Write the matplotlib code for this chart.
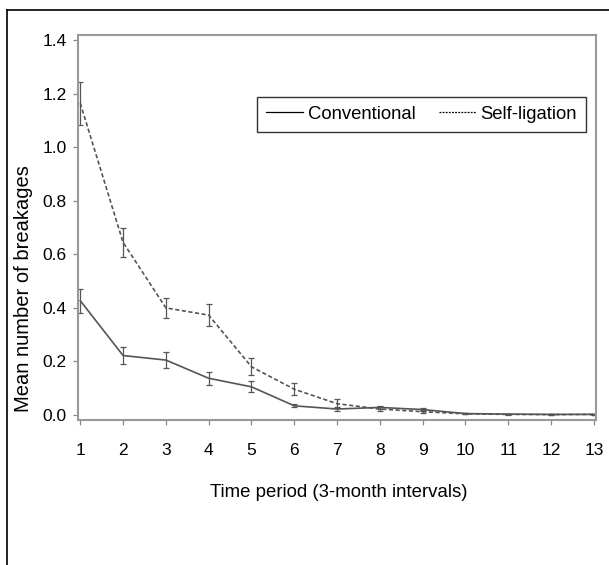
import matplotlib
matplotlib.use("Agg")
import matplotlib.pyplot as plt
from matplotlib.lines import Line2D

plt.rcParams['font.family'] = ['Liberation Sans', 'DejaVu Sans']

periods = [1, 2, 3, 4, 5, 6, 7, 8, 9, 10, 11, 12, 13]
conventional = [0.427, 0.222, 0.205, 0.137, 0.105, 0.034, 0.022, 0.028, 0.02, 0.005, 0.003, 0.002, 0.002]
conventional_err = [0.045, 0.032, 0.03, 0.025, 0.02, 0.006, 0.006, 0.007, 0.005, 0.002, 0.001, 0.001, 0.001]
self_ligation = [1.165, 0.645, 0.40, 0.373, 0.18, 0.096, 0.042, 0.022, 0.012, 0.004, 0.002, 0.001, 0.002]
self_ligation_err = [0.08, 0.053, 0.038, 0.04, 0.032, 0.022, 0.016, 0.008, 0.005, 0.002, 0.001, 0.001, 0.001]
series_names = ["Conventional", "Self-ligation"]
y_ticks = [0.0, 0.2, 0.4, 0.6, 0.8, 1.0, 1.2, 1.4]

W, H = 609, 565
L, R, T, B = 77.7, 596, 35, 420
fig = plt.figure(figsize=(W/100, H/100), dpi=100)
ax = fig.add_axes([L/W, 1-B/H, (R-L)/W, (B-T)/H])

line_col = '#555555'
ax.errorbar(periods, conventional, yerr=conventional_err, color=line_col, lw=1.2,
            ls='-', capsize=2, elinewidth=0.9, capthick=0.9)
ax.errorbar(periods, self_ligation, yerr=self_ligation_err, color=line_col, lw=1.2,
            ls=(0, (2.5, 1.5)), capsize=2, elinewidth=0.9, capthick=0.9)

ax.set_xlim(0.94, 13.05)
ax.set_ylim(-0.019, 1.42)
ax.set_xticks(periods)
ax.set_yticks(y_ticks)
ax.set_yticklabels([f"{v:.1f}" for v in y_ticks])
for s in ax.spines.values():
    s.set_color('#999999')
    s.set_linewidth(1.5)
ax.tick_params(colors='#888888', labelcolor='black', labelsize=12.5, length=3.5, width=0.9)
ax.tick_params(axis='x', pad=13)
ax.tick_params(axis='y', pad=4.3)

ax.set_xlabel("Time period (3-month intervals)", fontsize=13.4)
ax.xaxis.set_label_coords((339 - L)/(R - L), -(484 - B)/(B - T))
ax.set_ylabel("Mean number of breakages", fontsize=14.5)
ax.yaxis.set_label_coords(-(L - 33)/(R - L), 1 - (288.5 - T)/(B - T))

handles = [Line2D([], [], color='black', lw=0.9, ls='-'),
           Line2D([], [], color='black', lw=0.9, ls=(0, (1.5, 1)))]
leg = ax.legend(handles, series_names, ncol=2, loc='upper left',
                bbox_to_anchor=((256.7 - L)/(R - L), 1 - (96.7 - T)/(B - T)),
                frameon=True, fancybox=False, fontsize=13.3, handlelength=2.0,
                handletextpad=0.26, columnspacing=1.26, borderpad=0.5, borderaxespad=0)
leg.get_frame().set_edgecolor('black')
leg.get_frame().set_linewidth(1.0)

fig.add_artist(Line2D([7/W, 7/W], [0, 1-10/H], color='black', lw=1.2, transform=fig.transFigure))
fig.add_artist(Line2D([7/W, 1], [1-10/H, 1-10/H], color='black', lw=1.2, transform=fig.transFigure))

fig.savefig("out.png", dpi=100)
